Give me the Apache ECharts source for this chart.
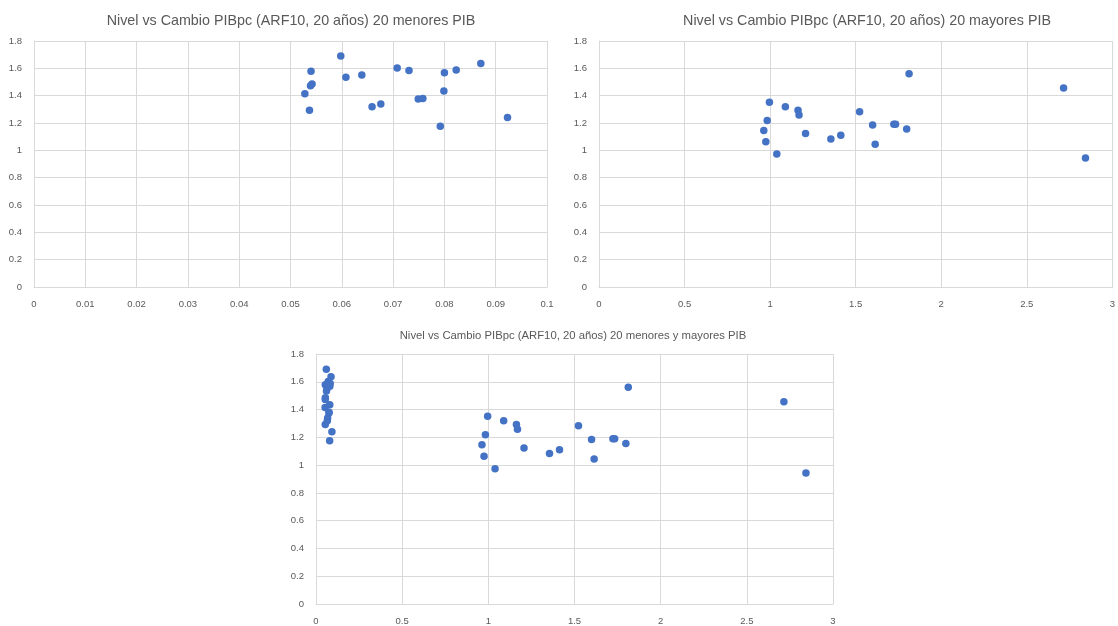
<!DOCTYPE html>
<html><head><meta charset="utf-8">
<script src="https://cdn.jsdelivr.net/npm/echarts@6/dist/echarts.min.js"></script>
<style>html,body{margin:0;padding:0;background:#fff}#c{width:1118px;height:626px}</style>
</head><body><div id="c"></div>
<script>
const titleMenores = "Nivel vs Cambio PIBpc (ARF10, 20 años) 20 menores PIB";
const titleMayores = "Nivel vs Cambio PIBpc (ARF10, 20 años) 20 mayores PIB";
const titleAmbos = "Nivel vs Cambio PIBpc (ARF10, 20 años) 20 menores y mayores PIB";

const menoresX = [0.0598,0.0540,0.0608,0.0639,0.0542,0.0539,0.0528,0.0537,0.0659,0.0676,0.0708,0.0731,0.0749,0.0758,0.0792,0.0800,0.0799,0.0823,0.0871,0.0923];
const menoresY = [1.690,1.578,1.534,1.551,1.485,1.473,1.414,1.293,1.319,1.339,1.602,1.585,1.375,1.380,1.176,1.568,1.434,1.587,1.636,1.241];

const mayoresX = [1.812,0.996,1.089,1.163,1.169,0.983,0.963,0.975,1.039,1.207,1.355,1.413,1.523,1.599,1.614,1.723,1.733,1.798,2.715,2.843];
const mayoresY = [1.560,1.351,1.319,1.293,1.258,1.219,1.146,1.063,0.973,1.124,1.083,1.110,1.283,1.185,1.044,1.190,1.190,1.156,1.456,0.944];

const pairs = (xs, ys) => xs.map((x, i) => [x, ys[i]]);
const menores = pairs(menoresX, menoresY);
const mayores = pairs(mayoresX, mayoresY);
const ambos = menores.concat(mayores);

const FONT = "'Liberation Sans', Arial, sans-serif";
const grey = '#595959';
const gridCol = '#d9d9d9';

function xAxis(gi, max, interval) {
  return {
    gridIndex: gi, type: 'value', min: 0, max: max, interval: interval,
    axisLine: {show: true, lineStyle: {color: gridCol}},
    axisTick: {show: false},
    splitLine: {show: true, lineStyle: {color: gridCol}},
    axisLabel: {color: grey, fontSize: 9.5, fontFamily: FONT, margin: 12}
  };
}
function yAxis(gi) {
  return {
    gridIndex: gi, type: 'value', min: 0, max: 1.8, interval: 0.2,
    axisLine: {show: true, lineStyle: {color: gridCol}},
    axisTick: {show: false},
    splitLine: {show: true, lineStyle: {color: gridCol}},
    axisLabel: {color: grey, fontSize: 9.5, fontFamily: FONT, margin: 12}
  };
}
function series(gi, data) {
  return {
    type: 'scatter', xAxisIndex: gi, yAxisIndex: gi, data: data,
    symbol: 'circle', symbolSize: 7.5,
    itemStyle: {color: '#4472C4', opacity: 1}, animation: false
  };
}

const chart = echarts.init(document.getElementById('c'), null, {renderer: 'canvas'});
chart.setOption({
  animation: false,
  backgroundColor: '#fff',
  title: [
    {text: titleMenores, left: 286, top: 9, textAlign: 'center',
     textStyle: {color: grey, fontSize: 14.3, fontWeight: 'normal', fontFamily: FONT}},
    {text: titleMayores, left: 862, top: 9, textAlign: 'center',
     textStyle: {color: grey, fontSize: 14.3, fontWeight: 'normal', fontFamily: FONT}},
    {text: titleAmbos, left: 568, top: 325, textAlign: 'center',
     textStyle: {color: grey, fontSize: 11.3, fontWeight: 'normal', fontFamily: FONT}}
  ],
  grid: [
    {left: 34, top: 41, width: 513, height: 246},
    {left: 599, top: 41, width: 515, height: 246},
    {left: 316, top: 354, width: 517, height: 250}
  ],
  xAxis: [xAxis(0, 0.1, 0.01), xAxis(1, 3, 0.5), xAxis(2, 3, 0.5)],
  yAxis: [yAxis(0), yAxis(1), yAxis(2)],
  series: [series(0, menores), series(1, mayores), series(2, ambos)]
});
</script>
</body></html>
